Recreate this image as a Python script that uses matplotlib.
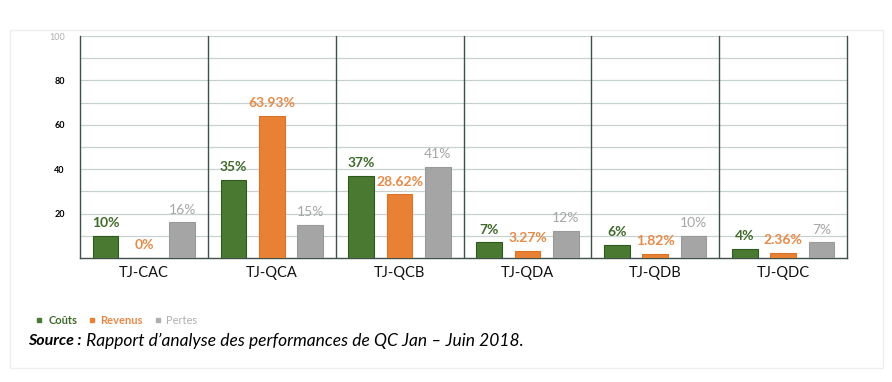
import matplotlib.pyplot as plt
import numpy as np
from matplotlib.lines import Line2D
from matplotlib.patches import Rectangle

categories = ["TJ-CAC", "TJ-QCA", "TJ-QCB", "TJ-QDA", "TJ-QDB", "TJ-QDC"]
couts = [10, 35, 37, 7, 6, 4]
revenus = [0, 63.93, 28.62, 3.27, 1.82, 2.36]
pertes = [16, 15, 41, 12, 10, 7]
couts_lbl = ["10%", "35%", "37%", "7%", "6%", "4%"]
revenus_lbl = ["0%", "63.93%", "28.62%", "3.27%", "1.82%", "2.36%"]
pertes_lbl = ["16%", "15%", "41%", "12%", "10%", "7%"]
yticks = [20, 40, 60, 80, 100]

W, H = 892, 382
fig = plt.figure(figsize=(W / 100, H / 100), dpi=100)
fig.patch.set_facecolor("white")
font = "Lato"

# faint outer frame
fig.patches.append(Rectangle((10 / W, 1 - 368 / H), 873 / W, 338 / H,
                             transform=fig.transFigure, fill=False,
                             edgecolor="#eeeeee", linewidth=1.0))

ax = fig.add_axes([80 / W, 1 - 258 / H, 767 / W, 222 / H])
ax.set_xlim(0, len(categories))
ax.set_ylim(0, 100)

green, orange, gray = "#4a7a32", "#e98134", "#a5a5a5"
green_t, orange_t, gray_t = "#3f6a2a", "#e58a48", "#a6a6a6"

x = np.arange(len(categories)) + 0.5
off, bw = 0.3, 0.2
series = [(couts, couts_lbl, -off, green, "#2f5a1e", green_t, "bold"),
          (revenus, revenus_lbl, 0, orange, "#d9732a", orange_t, "bold"),
          (pertes, pertes_lbl, off, gray, "#9a9a9a", gray_t, "normal")]
for vals, lbls, dx, fc, ec, tc, fw in series:
    bars = ax.bar(x + dx, vals, width=bw, color=fc, edgecolor=ec, linewidth=0.8, zorder=3)
    for b, v, l in zip(bars, vals, lbls):
        ax.annotate(l, (b.get_x() + b.get_width() / 2, v), xytext=(0, 5),
                    textcoords="offset points", ha="center", va="bottom",
                    fontsize=10, color=tc, fontweight=fw, family=font)

# gridlines
for g in range(10, 101, 10):
    ax.axhline(g, color="#c9d0d0", linewidth=0.9, zorder=1)
for s in range(1, len(categories)):
    ax.axvline(s, color="#3f4f4c", linewidth=1.0, zorder=2)

ax.spines["top"].set_visible(False)
for sp in ["left", "right", "bottom"]:
    ax.spines[sp].set_color("#3f4f4c")
    ax.spines[sp].set_linewidth(1.0)

ax.set_yticks(yticks)
ax.set_yticklabels([str(t) for t in yticks], fontsize=6.5, fontweight="bold", family=font)
ax.get_yticklabels()[-1].set_color("#b0b0b0")
ax.get_yticklabels()[-1].set_fontweight("normal")
ax.tick_params(axis="y", length=0, pad=11)
ax.set_xticks(x)
ax.set_xticklabels(categories, fontsize=10.5, family=font, color="#111111")
ax.tick_params(axis="x", length=0, pad=6)

handles = [Line2D([], [], marker="s", linestyle="", color=green, markersize=3),
           Line2D([], [], marker="s", linestyle="", color=orange, markersize=3),
           Line2D([], [], marker="s", linestyle="", color="#b0b0b0", markersize=3)]
leg = fig.legend(handles, ["Coûts", "Revenus", "Pertes"], loc="center left",
                 bbox_to_anchor=(26 / W, 1 - 320 / H), ncol=3, frameon=False,
                 prop={"family": font, "size": 8, "weight": "bold"},
                 handlelength=0.6, handletextpad=0.5, columnspacing=1.0,
                 labelcolor=[green_t, orange_t, "#b0b0b0"])
leg.get_texts()[2].set_fontweight("normal")

t1 = fig.text(28 / W, 1 - 341 / H, "Source :", fontsize=11.5, fontweight="bold",
              style="italic", family=font, va="center", color="black")
ax.annotate(" Rapport d\u2019analyse des performances de QC Jan \u2013 Juin 2018.",
            xy=(1, 0.5), xycoords=t1, va="center", ha="left", fontsize=12.5,
            style="italic", family=font, color="black", annotation_clip=False)

fig.savefig("out.png", dpi=100, facecolor="white")
